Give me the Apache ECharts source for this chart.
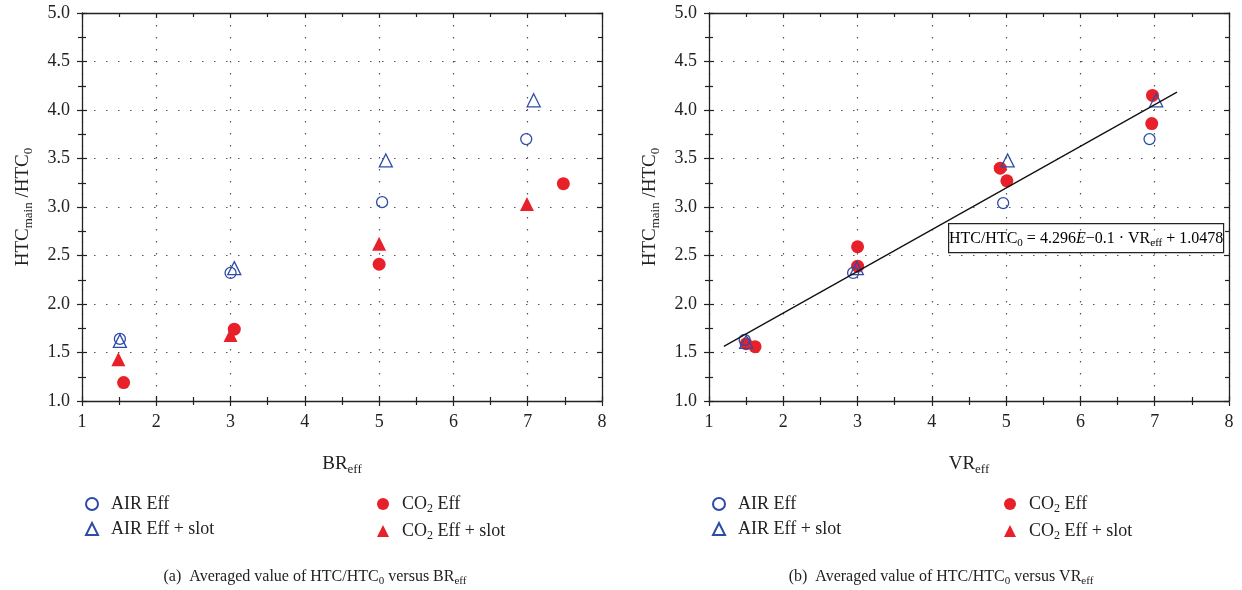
<!DOCTYPE html>
<html>
<head>
<meta charset="utf-8">
<script src="https://cdn.jsdelivr.net/npm/echarts@6/dist/echarts.min.js"></script>
<style>
  html, body { margin: 0; padding: 0; background: #fff; }
  #chart { width: 1242px; height: 590px; }
</style>
</head>
<body>
<div id="chart"></div>
<script>
// Averaged HTC_main / HTC_0 against effective blockage ratio (BR_eff)
const airEffBR  = [[1.51, 1.64], [3.00, 2.32], [5.04, 3.05], [6.98, 3.70]];
const airSlotBR = [[1.51, 1.62], [3.05, 2.37], [5.09, 3.48], [7.08, 4.10]];
const co2EffBR  = [[1.56, 1.19], [3.05, 1.74], [5.00, 2.41], [7.48, 3.24]];
const co2SlotBR = [[1.49, 1.43], [3.00, 1.68], [5.00, 2.62], [6.99, 3.03]];

// Averaged HTC_main / HTC_0 against effective velocity ratio (VR_eff)
const airEffVR  = [[1.48, 1.63], [2.94, 2.32], [4.96, 3.04], [6.93, 3.70]];
const airSlotVR = [[1.50, 1.61], [2.99, 2.37], [5.02, 3.48], [7.02, 4.10]];
const co2EffVR  = [[1.50, 1.59], [1.62, 1.56], [3.00, 2.59], [3.00, 2.39],
                   [4.92, 3.40], [5.01, 3.27], [6.97, 4.15], [6.96, 3.86]];
const co2SlotVR = [];

// Linear fit HTC/HTC0 = a * VR_eff + b, drawn over the fitted range
const fitSlope = 0.4296;
const fitIntercept = 1.0478;
const fitRange = [1.2, 7.3];

// Axis ticks
const xTicks = [1, 2, 3, 4, 5, 6, 7, 8];
const yTicks = [1.0, 1.5, 2.0, 2.5, 3.0, 3.5, 4.0, 4.5, 5.0];

const FONT = 'Liberation Serif';
const INK = '#222';
const BLUE = '#2d4ca8';
const RED = '#e8202a';

const richText = (size) => ({
  t: { fontFamily: FONT, fontSize: size, color: INK, lineHeight: size + 4 },
  i: { fontFamily: FONT, fontSize: size, color: INK, fontStyle: 'italic', lineHeight: size + 4 },
  s: { fontFamily: FONT, fontSize: Math.round(size * 0.68), color: INK,
       verticalAlign: 'bottom', lineHeight: Math.round(size * 0.68) }
});

const subName = (name) => name.startsWith('CO2')
  ? '{t|CO}{s|2}{t|' + name.slice(3) + '}'
  : '{t|' + name + '}';

const xStep = xTicks[1] - xTicks[0];
const yStep = yTicks[1] - yTicks[0];
const xMin = xTicks[0], xMax = xTicks[xTicks.length - 1];
const yMin = yTicks[0], yMax = yTicks[yTicks.length - 1];

const frameLine = { show: true, onZero: false, lineStyle: { color: INK, width: 1.3 } };
const tickStyle = { color: INK, width: 1.2 };
const dotted = { show: true, lineStyle: { type: [1.5, 10.5], color: '#555', width: 1.2 } };

function xAxesFor(gi, nameRich) {
  const base = { gridIndex: gi, type: 'value', min: xMin, max: xMax, interval: xStep };
  return [
    Object.assign({}, base, {
      position: 'bottom',
      name: nameRich, nameLocation: 'middle', nameGap: 52,
      nameTextStyle: { rich: richText(19) },
      axisLine: frameLine,
      axisTick: { show: true, length: 5, lineStyle: tickStyle },
      minorTick: { show: true, splitNumber: 2, length: 4, lineStyle: tickStyle },
      axisLabel: { margin: 12, fontFamily: FONT, fontSize: 18, color: INK },
      splitLine: dotted
    }),
    Object.assign({}, base, {
      position: 'bottom',
      axisLine: { show: false },
      axisTick: { show: true, inside: true, length: 5, lineStyle: tickStyle },
      minorTick: { show: true, splitNumber: 2, length: 4, lineStyle: tickStyle },
      axisLabel: { show: false }, splitLine: { show: false }
    }),
    Object.assign({}, base, {
      position: 'top',
      axisLine: frameLine,
      axisTick: { show: true, inside: true, length: 5, lineStyle: tickStyle },
      minorTick: { show: true, splitNumber: 2, length: 4, lineStyle: tickStyle },
      axisLabel: { show: false }, splitLine: { show: false }
    })
  ];
}

function yAxesFor(gi) {
  const base = { gridIndex: gi, type: 'value', min: yMin, max: yMax, interval: yStep };
  return [
    Object.assign({}, base, {
      position: 'left',
      name: '{t|HTC}{s|main}{t| /HTC}{s|0}', nameLocation: 'middle', nameGap: 47,
      nameRotate: 90,
      nameTextStyle: { rich: richText(19) },
      axisLine: frameLine,
      axisTick: { show: true, length: 5, lineStyle: tickStyle },
      minorTick: { show: true, splitNumber: 2, length: 4, lineStyle: tickStyle },
      axisLabel: { margin: 12, fontFamily: FONT, fontSize: 18, color: INK,
                   formatter: (v) => v.toFixed(1) },
      splitLine: dotted
    }),
    Object.assign({}, base, {
      position: 'left',
      axisLine: { show: false },
      axisTick: { show: true, inside: true, length: 5, lineStyle: tickStyle },
      minorTick: { show: true, splitNumber: 2, length: 4, lineStyle: tickStyle },
      axisLabel: { show: false }, splitLine: { show: false }
    }),
    Object.assign({}, base, {
      position: 'right',
      axisLine: frameLine,
      axisTick: { show: true, inside: true, length: 5, lineStyle: tickStyle },
      minorTick: { show: true, splitNumber: 2, length: 4, lineStyle: tickStyle },
      axisLabel: { show: false }, splitLine: { show: false }
    })
  ];
}

const hollow = (c) => ({ color: 'rgba(255,255,255,0)', borderColor: c, borderWidth: 1.3, opacity: 1 });
const filled = (c) => ({ color: c, borderWidth: 0, opacity: 1 });

function scatterSet(gi, airEff, airSlot, co2Eff, co2Slot) {
  const axisIdx = gi * 3;
  const common = { type: 'scatter', xAxisIndex: axisIdx, yAxisIndex: axisIdx, silent: true };
  return [
    Object.assign({ name: 'CO2 Eff', data: co2Eff, symbol: 'circle', symbolSize: 13,
                    itemStyle: filled(RED), z: 2 }, common),
    Object.assign({ name: 'CO2 Eff + slot', data: co2Slot, symbol: 'triangle', symbolSize: 14,
                    itemStyle: filled(RED), z: 2 }, common),
    Object.assign({ name: 'AIR Eff', data: airEff, symbol: 'circle', symbolSize: 11,
                    itemStyle: hollow(BLUE), z: 3 }, common),
    Object.assign({ name: 'AIR Eff + slot', data: airSlot, symbol: 'triangle', symbolSize: 13,
                    itemStyle: hollow(BLUE), z: 3 }, common)
  ];
}

const fitLine = fitRange.map((x) => [x, fitSlope * x + fitIntercept]);

function legendPair(names, left) {
  return {
    data: names, orient: 'vertical', left: left, top: 490,
    itemWidth: 12, itemHeight: 12, itemGap: 7, selectedMode: false,
    formatter: subName,
    textStyle: { padding: [0, 0, 0, 8], rich: richText(18) }
  };
}

const slopeText = (fitSlope * 10).toFixed(3);
const interceptText = fitIntercept.toFixed(4);

const captionStyle = { fontWeight: 'normal', rich: richText(16) };

const option = {
  backgroundColor: '#fff',
  animation: false,
  grid: [
    { left: 82, right: 640, top: 13, bottom: 189 },
    { left: 709, right: 13, top: 13, bottom: 189 }
  ],
  xAxis: [].concat(xAxesFor(0, '{t|BR}{s|eff}'), xAxesFor(1, '{t|VR}{s|eff}')),
  yAxis: [].concat(yAxesFor(0), yAxesFor(1)),
  legend: [
    legendPair(['AIR Eff', 'AIR Eff + slot'], 80),
    legendPair(['CO2 Eff', 'CO2 Eff + slot'], 372),
    legendPair(['AIR Eff', 'AIR Eff + slot'], 707),
    legendPair(['CO2 Eff', 'CO2 Eff + slot'], 999)
  ],
  title: [
    { text: '{t|(a)  Averaged value of HTC/HTC}{s|0}{t| versus BR}{s|eff}',
      left: 310, top: 562, textAlign: 'center', textStyle: captionStyle },
    { text: '{t|(b)  Averaged value of HTC/HTC}{s|0}{t| versus VR}{s|eff}',
      left: 936, top: 562, textAlign: 'center', textStyle: captionStyle }
  ],
  graphic: [
    {
      type: 'group', left: 948, top: 223, z: 10,
      children: [
        { type: 'rect', shape: { x: 0, y: 0, width: 275, height: 29 },
          style: { fill: '#fff', stroke: INK, lineWidth: 1.2 } },
        { type: 'text', x: 137.5, y: 15,
          style: {
            text: '{t|HTC/HTC}{s|0}{t| = ' + slopeText + '}{i|E}{t|\u22120.1 \u00b7 VR}{s|eff}{t| + ' + interceptText + '}',
            align: 'center', verticalAlign: 'middle',
            rich: richText(16)
          } }
      ]
    }
  ],
  series: [].concat(
    scatterSet(0, airEffBR, airSlotBR, co2EffBR, co2SlotBR),
    scatterSet(1, airEffVR, airSlotVR, co2EffVR, co2SlotVR),
    [{
      type: 'line', name: 'fit', xAxisIndex: 3, yAxisIndex: 3, data: fitLine,
      symbol: 'none', silent: true, z: 5,
      lineStyle: { color: '#111', width: 1.3 }
    }]
  )
};

const chart = echarts.init(document.getElementById('chart'), null, { renderer: 'canvas' });
chart.setOption(option);
</script>
</body>
</html>
